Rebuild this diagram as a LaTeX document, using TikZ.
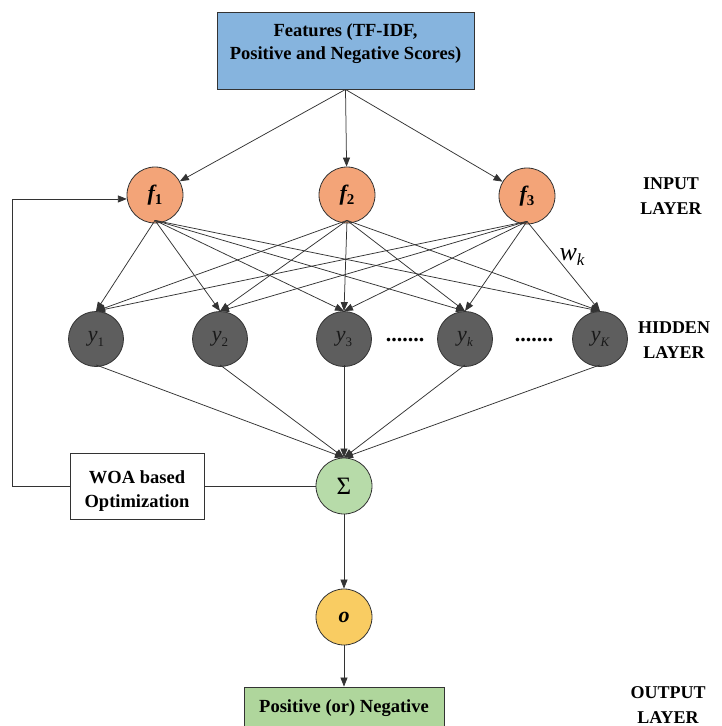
\documentclass[tikz,border=0pt]{standalone}
\usepackage{fontspec}
\setmainfont{Liberation Serif}
\usetikzlibrary{arrows.meta,shapes.geometric,positioning}
\definecolor{featblue}{HTML}{86B4DE}
\definecolor{inorange}{HTML}{F3A478}
\definecolor{hidgray}{HTML}{5E5E5E}
\definecolor{sumgreen}{HTML}{B7DBA9}
\definecolor{outyellow}{HTML}{F9CC62}
\definecolor{outgreen}{HTML}{AFD69C}
\definecolor{edge}{HTML}{333333}
\newcommand{\lowsub}[2]{\raisebox{-0.45ex}{\fontsize{#1}{#1}\selectfont #2}}
\tikzset{
  arr/.style={draw=edge, line width=0.75pt, -{Triangle[length=9pt,width=7pt]}},
  plain/.style={draw=edge, line width=0.75pt},
  featbox/.style={draw=edge, line width=0.9pt, fill=featblue, minimum width=257pt, minimum height=77pt, align=center, font=\fontsize{18.5}{23}\selectfont\bfseries},
  innode/.style={circle, draw=edge, line width=0.8pt, fill=inorange, minimum size=56pt, inner sep=0pt, font=\fontsize{22}{22}\selectfont\bfseries\itshape},
  hidnode/.style={circle, draw=edge, line width=0.8pt, fill=hidgray, minimum size=55pt, inner sep=0pt, font=\fontsize{22}{22}\selectfont\itshape, text=black!90},
  sumnode/.style={circle, draw=edge, line width=0.8pt, fill=sumgreen, minimum size=56pt, inner sep=0pt, font=\fontsize{25}{25}\selectfont},
  onode/.style={circle, draw=edge, line width=0.8pt, fill=outyellow, minimum size=56pt, inner sep=0pt, font=\fontsize{22}{22}\selectfont\bfseries\itshape},
  woabox/.style={draw=edge, line width=0.8pt, fill=white, minimum width=134pt, minimum height=66pt},
  woatext/.style={align=center, font=\fontsize{18.5}{24}\selectfont\bfseries},
  resbox/.style={draw=edge, line width=0.8pt, fill=outgreen, minimum width=200pt, minimum height=42pt, align=center, font=\fontsize{18.5}{22}\selectfont\bfseries},
  laylabel/.style={align=center, font=\fontsize{18}{24.5}\selectfont\bfseries},
  dotlabel/.style={font=\fontsize{22}{22}\selectfont\bfseries}
}
\begin{document}
\begin{tikzpicture}[x=1pt,y=-1pt]
\useasboundingbox (0,0) rectangle (721,726);
\fill[white] (0,0) rectangle (721,726);
% nodes
\node[featbox] (feat) at (345.5,50.5) {Features (TF-IDF,\\Positive and Negative Scores)\\[-6pt]\mbox{}};
\node[innode] (f1) at (155,195) {f\lowsub{15}{\upshape 1}};
\node[innode] (f2) at (347,195) {f\lowsub{15}{\upshape 2}};
\node[innode] (f3) at (527,196) {f\lowsub{15}{\upshape 3}};
\node[hidnode] (y1) at (96,339) {y\lowsub{13}{\upshape 1}};
\node[hidnode] (y2) at (220,339) {y\lowsub{13}{\upshape 2}};
\node[hidnode] (y3) at (344,339) {y\lowsub{13}{\upshape 3}};
\node[hidnode] (y4) at (465,339) {y\lowsub{13}{k}};
\node[hidnode] (y5) at (600,339) {y\lowsub{13}{K}};
\node[dotlabel] (d1) at (405,340) {.......};
\node[dotlabel] (d2) at (534,340) {.......};
\node[sumnode] (sum) at (344,486) {Σ};
\node[woabox] (woa) at (137,486) {};
\node[woatext] (woat) at (137,491) {WOA based\\Optimization};
\node[onode] (o) at (344,617) {o};
\node[resbox] (res) at (344,708) {Positive (or) Negative};
\node[laylabel] (lin) at (671,196) {INPUT\\LAYER};
\node[laylabel] (lhid) at (674,340) {HIDDEN\\LAYER};
\node[laylabel] (lout) at (668,705) {OUTPUT\\LAYER};
\node[font=\fontsize{26}{26}\selectfont\itshape] (wk) at (572,257) {w\lowsub{17}{k}};
% connectors
\foreach \f in {f1,f2,f3} \draw[arr] (feat.south) -- (\f);
\foreach \f in {f1,f2,f3} {
  \foreach \y in {y1,y2,y3,y4,y5} \draw[arr] ([yshift=3pt]\f.south) -- (\y.north);
}
\foreach \y in {y1,y2,y3,y4,y5} \draw[arr] ([yshift=2pt]\y.south) -- (sum.north);
\draw[plain] (woa.east) -- (sum.west);
\draw[arr] (sum.south) -- (o.north);
\draw[arr] (o.south) -- (res.north);
\draw[arr] (woa.west) -- ++(-57,0) |- (f1.188);
\end{tikzpicture}
\end{document}
